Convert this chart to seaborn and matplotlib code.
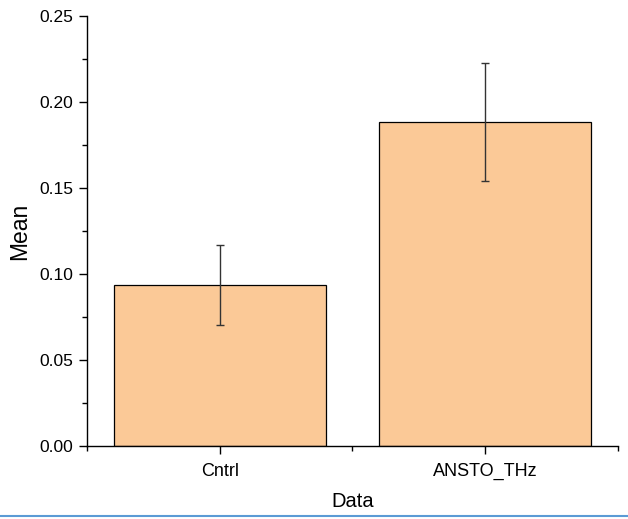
import matplotlib
matplotlib.use("Agg")
import matplotlib.pyplot as plt
from matplotlib.ticker import MultipleLocator, FixedLocator
from matplotlib.lines import Line2D
import seaborn as sns
import pandas as pd

categories = ["Cntrl", "ANSTO_THz"]
means = [0.0937, 0.1885]
errors = [0.0233, 0.0342]

df = pd.DataFrame({"Data": categories, "Mean": means})

sns.set_theme(style="ticks")
plt.rcParams["font.family"] = ["Liberation Sans", "DejaVu Sans"]
plt.rcParams["text.color"] = "black"
plt.rcParams["axes.labelcolor"] = "black"

fig = plt.figure(figsize=(6.28, 5.19), dpi=100)
ax = fig.add_axes([0.1385, 0.1407, 0.8455, 0.8283])

sns.barplot(data=df, x="Data", y="Mean", color="#FBC997", saturation=1,
            edgecolor="black", linewidth=0.9, width=0.8, errorbar=None, ax=ax)
ax.errorbar(range(len(categories)), means, yerr=errors, fmt="none",
            ecolor="#333333", elinewidth=1.0, capsize=3, capthick=1.0)

ax.set_xlim(-0.5, 1.5)
ax.set_ylim(0, 0.25)
ax.yaxis.set_major_locator(MultipleLocator(0.05))
ax.yaxis.set_minor_locator(MultipleLocator(0.025))
ax.xaxis.set_minor_locator(FixedLocator([-0.5, 0.5, 1.5]))
ax.set_yticklabels([f"{v:.2f}" for v in ax.get_yticks()])

for s in ["top", "right"]:
    ax.spines[s].set_visible(False)
for s in ["left", "bottom"]:
    ax.spines[s].set_linewidth(1.0)
    ax.spines[s].set_color("black")

ax.tick_params(axis="both", which="major", direction="out", length=6, width=1.0,
               colors="black", labelcolor="black", pad=4)
ax.tick_params(axis="y", which="major", labelsize=12.5)
ax.tick_params(axis="x", which="major", labelsize=13, pad=6)
ax.tick_params(axis="both", which="minor", direction="out", length=3.5, width=1.0,
               colors="black")
ax.set_xlabel("Data", fontsize=14.5, labelpad=9, color="black")
ax.set_ylabel("Mean", fontsize=16.5, labelpad=6, color="black")

fig.add_artist(Line2D([0, 1], [0.006, 0.006], transform=fig.transFigure,
                      color="#5B9BD5", linewidth=1.5))

fig.savefig("out.png", dpi=100)
